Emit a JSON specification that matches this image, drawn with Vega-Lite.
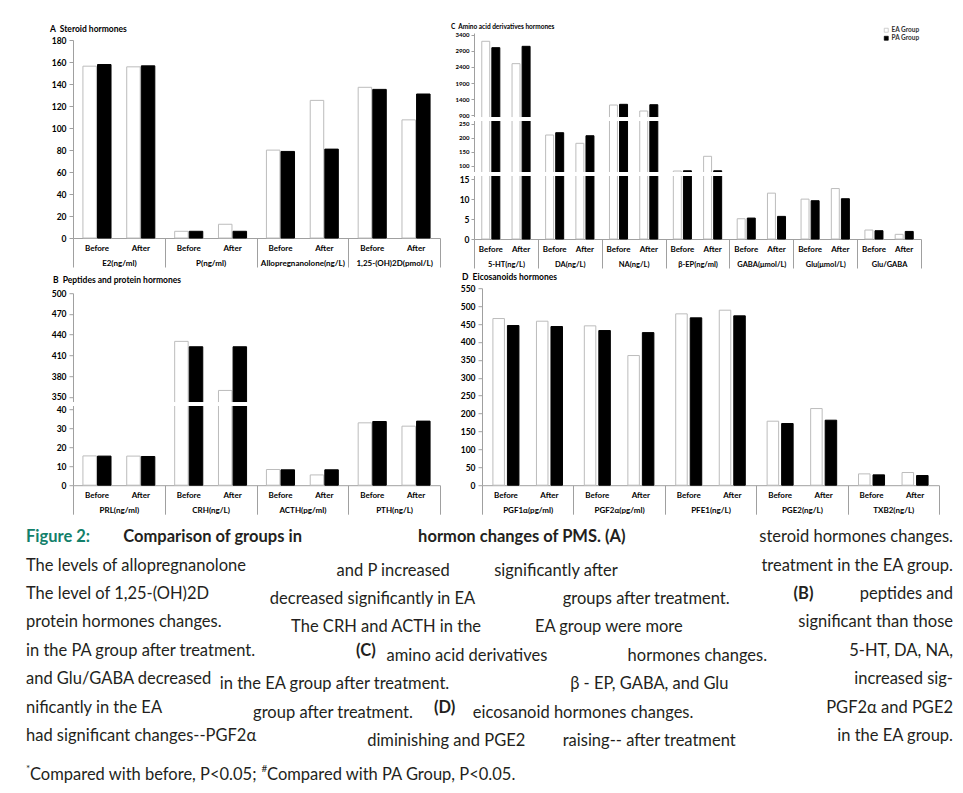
{
  "$schema": "https://vega.github.io/schema/vega-lite/v6.json",
  "background": "white",
  "padding": {"left": 26, "top": 23, "right": 0, "bottom": 0},
  "config": {"view": {"stroke": null}, "font": "Lato"},
  "spacing": 3.2,
  "resolve": {"scale": {"color": "independent", "stroke": "independent"}, "legend": {"color": "independent", "stroke": "independent"}},
  "datasets": {
    "bars": [
      {"panel": "A", "group": "E2(ng/ml)", "phase": "Before", "series": "EA Group", "slot": "Before EA", "value": 156.2},
      {"panel": "A", "group": "E2(ng/ml)", "phase": "Before", "series": "PA Group", "slot": "Before PA", "value": 157.7},
      {"panel": "A", "group": "E2(ng/ml)", "phase": "After", "series": "EA Group", "slot": "After EA", "value": 155.6},
      {"panel": "A", "group": "E2(ng/ml)", "phase": "After", "series": "PA Group", "slot": "After PA", "value": 156.5},
      {"panel": "A", "group": "P(ng/ml)", "phase": "Before", "series": "EA Group", "slot": "Before EA", "value": 6.1},
      {"panel": "A", "group": "P(ng/ml)", "phase": "Before", "series": "PA Group", "slot": "Before PA", "value": 6.1},
      {"panel": "A", "group": "P(ng/ml)", "phase": "After", "series": "EA Group", "slot": "After EA", "value": 12.5},
      {"panel": "A", "group": "P(ng/ml)", "phase": "After", "series": "PA Group", "slot": "After PA", "value": 6.1},
      {"panel": "A", "group": "Allopregnanolone(ng/L)", "phase": "Before", "series": "EA Group", "slot": "Before EA", "value": 79.9},
      {"panel": "A", "group": "Allopregnanolone(ng/L)", "phase": "Before", "series": "PA Group", "slot": "Before PA", "value": 78.7},
      {"panel": "A", "group": "Allopregnanolone(ng/L)", "phase": "After", "series": "EA Group", "slot": "After EA", "value": 125.1},
      {"panel": "A", "group": "Allopregnanolone(ng/L)", "phase": "After", "series": "PA Group", "slot": "After PA", "value": 80.8},
      {"panel": "A", "group": "1,25-(OH)2D(pmol/L)", "phase": "Before", "series": "EA Group", "slot": "Before EA", "value": 137.0},
      {"panel": "A", "group": "1,25-(OH)2D(pmol/L)", "phase": "Before", "series": "PA Group", "slot": "Before PA", "value": 135.1},
      {"panel": "A", "group": "1,25-(OH)2D(pmol/L)", "phase": "After", "series": "EA Group", "slot": "After EA", "value": 107.4},
      {"panel": "A", "group": "1,25-(OH)2D(pmol/L)", "phase": "After", "series": "PA Group", "slot": "After PA", "value": 130.9},

      {"panel": "B", "group": "PRL(ng/ml)", "phase": "Before", "series": "EA Group", "slot": "Before EA", "value": 15.4},
      {"panel": "B", "group": "PRL(ng/ml)", "phase": "Before", "series": "PA Group", "slot": "Before PA", "value": 15.3},
      {"panel": "B", "group": "PRL(ng/ml)", "phase": "After", "series": "EA Group", "slot": "After EA", "value": 15.3},
      {"panel": "B", "group": "PRL(ng/ml)", "phase": "After", "series": "PA Group", "slot": "After PA", "value": 15.1},
      {"panel": "B", "group": "CRH(ng/L)", "phase": "Before", "series": "EA Group", "slot": "Before EA", "value": 430.3},
      {"panel": "B", "group": "CRH(ng/L)", "phase": "Before", "series": "PA Group", "slot": "Before PA", "value": 422.5},
      {"panel": "B", "group": "CRH(ng/L)", "phase": "After", "series": "EA Group", "slot": "After EA", "value": 359.3},
      {"panel": "B", "group": "CRH(ng/L)", "phase": "After", "series": "PA Group", "slot": "After PA", "value": 422.5},
      {"panel": "B", "group": "ACTH(pg/ml)", "phase": "Before", "series": "EA Group", "slot": "Before EA", "value": 8.25},
      {"panel": "B", "group": "ACTH(pg/ml)", "phase": "Before", "series": "PA Group", "slot": "Before PA", "value": 8.1},
      {"panel": "B", "group": "ACTH(pg/ml)", "phase": "After", "series": "EA Group", "slot": "After EA", "value": 5.4},
      {"panel": "B", "group": "ACTH(pg/ml)", "phase": "After", "series": "PA Group", "slot": "After PA", "value": 8.1},
      {"panel": "B", "group": "PTH(ng/L)", "phase": "Before", "series": "EA Group", "slot": "Before EA", "value": 32.8},
      {"panel": "B", "group": "PTH(ng/L)", "phase": "Before", "series": "PA Group", "slot": "Before PA", "value": 33.5},
      {"panel": "B", "group": "PTH(ng/L)", "phase": "After", "series": "EA Group", "slot": "After EA", "value": 31.05},
      {"panel": "B", "group": "PTH(ng/L)", "phase": "After", "series": "PA Group", "slot": "After PA", "value": 33.7},

      {"panel": "C", "group": "5-HT(ng/L)", "phase": "Before", "series": "EA Group", "slot": "Before EA", "value": 3203},
      {"panel": "C", "group": "5-HT(ng/L)", "phase": "Before", "series": "PA Group", "slot": "Before PA", "value": 3004},
      {"panel": "C", "group": "5-HT(ng/L)", "phase": "After", "series": "EA Group", "slot": "After EA", "value": 2504},
      {"panel": "C", "group": "5-HT(ng/L)", "phase": "After", "series": "PA Group", "slot": "After PA", "value": 3046},
      {"panel": "C", "group": "DA(ng/L)", "phase": "Before", "series": "EA Group", "slot": "Before EA", "value": 209.6},
      {"panel": "C", "group": "DA(ng/L)", "phase": "Before", "series": "PA Group", "slot": "Before PA", "value": 217.9},
      {"panel": "C", "group": "DA(ng/L)", "phase": "After", "series": "EA Group", "slot": "After EA", "value": 180},
      {"panel": "C", "group": "DA(ng/L)", "phase": "After", "series": "PA Group", "slot": "After PA", "value": 207},
      {"panel": "C", "group": "NA(ng/L)", "phase": "Before", "series": "EA Group", "slot": "Before EA", "value": 1212},
      {"panel": "C", "group": "NA(ng/L)", "phase": "Before", "series": "PA Group", "slot": "Before PA", "value": 1234},
      {"panel": "C", "group": "NA(ng/L)", "phase": "After", "series": "EA Group", "slot": "After EA", "value": 1025},
      {"panel": "C", "group": "NA(ng/L)", "phase": "After", "series": "PA Group", "slot": "After PA", "value": 1222},
      {"panel": "C", "group": "β-EP(ng/ml)", "phase": "Before", "series": "EA Group", "slot": "Before EA", "value": 81},
      {"panel": "C", "group": "β-EP(ng/ml)", "phase": "Before", "series": "PA Group", "slot": "Before PA", "value": 82},
      {"panel": "C", "group": "β-EP(ng/ml)", "phase": "After", "series": "EA Group", "slot": "After EA", "value": 133.6},
      {"panel": "C", "group": "β-EP(ng/ml)", "phase": "After", "series": "PA Group", "slot": "After PA", "value": 82},
      {"panel": "C", "group": "GABA(μmol/L)", "phase": "Before", "series": "EA Group", "slot": "Before EA", "value": 5.08},
      {"panel": "C", "group": "GABA(μmol/L)", "phase": "Before", "series": "PA Group", "slot": "Before PA", "value": 5.25},
      {"panel": "C", "group": "GABA(μmol/L)", "phase": "After", "series": "EA Group", "slot": "After EA", "value": 11.5},
      {"panel": "C", "group": "GABA(μmol/L)", "phase": "After", "series": "PA Group", "slot": "After PA", "value": 5.67},
      {"panel": "C", "group": "Glu(μmol/L)", "phase": "Before", "series": "EA Group", "slot": "Before EA", "value": 10.0},
      {"panel": "C", "group": "Glu(μmol/L)", "phase": "Before", "series": "PA Group", "slot": "Before PA", "value": 9.6},
      {"panel": "C", "group": "Glu(μmol/L)", "phase": "After", "series": "EA Group", "slot": "After EA", "value": 12.65},
      {"panel": "C", "group": "Glu(μmol/L)", "phase": "After", "series": "PA Group", "slot": "After PA", "value": 10.1},
      {"panel": "C", "group": "Glu/GABA", "phase": "Before", "series": "EA Group", "slot": "Before EA", "value": 2.25},
      {"panel": "C", "group": "Glu/GABA", "phase": "Before", "series": "PA Group", "slot": "Before PA", "value": 2.08},
      {"panel": "C", "group": "Glu/GABA", "phase": "After", "series": "EA Group", "slot": "After EA", "value": 1.17},
      {"panel": "C", "group": "Glu/GABA", "phase": "After", "series": "PA Group", "slot": "After PA", "value": 1.9},

      {"panel": "D", "group": "PGF1α(pg/ml)", "phase": "Before", "series": "EA Group", "slot": "Before EA", "value": 465.3},
      {"panel": "D", "group": "PGF1α(pg/ml)", "phase": "Before", "series": "PA Group", "slot": "Before PA", "value": 445.8},
      {"panel": "D", "group": "PGF1α(pg/ml)", "phase": "After", "series": "EA Group", "slot": "After EA", "value": 457.9},
      {"panel": "D", "group": "PGF1α(pg/ml)", "phase": "After", "series": "PA Group", "slot": "After PA", "value": 443},
      {"panel": "D", "group": "PGF2α(pg/ml)", "phase": "Before", "series": "EA Group", "slot": "Before EA", "value": 444.9},
      {"panel": "D", "group": "PGF2α(pg/ml)", "phase": "Before", "series": "PA Group", "slot": "Before PA", "value": 431.8},
      {"panel": "D", "group": "PGF2α(pg/ml)", "phase": "After", "series": "EA Group", "slot": "After EA", "value": 362},
      {"panel": "D", "group": "PGF2α(pg/ml)", "phase": "After", "series": "PA Group", "slot": "After PA", "value": 426},
      {"panel": "D", "group": "PFE1(ng/L)", "phase": "Before", "series": "EA Group", "slot": "Before EA", "value": 478.4},
      {"panel": "D", "group": "PFE1(ng/L)", "phase": "Before", "series": "PA Group", "slot": "Before PA", "value": 467.2},
      {"panel": "D", "group": "PFE1(ng/L)", "phase": "After", "series": "EA Group", "slot": "After EA", "value": 488.6},
      {"panel": "D", "group": "PFE1(ng/L)", "phase": "After", "series": "PA Group", "slot": "After PA", "value": 472.8},
      {"panel": "D", "group": "PGE2(ng/L)", "phase": "Before", "series": "EA Group", "slot": "Before EA", "value": 178.7},
      {"panel": "D", "group": "PGE2(ng/L)", "phase": "Before", "series": "PA Group", "slot": "Before PA", "value": 172.2},
      {"panel": "D", "group": "PGE2(ng/L)", "phase": "After", "series": "EA Group", "slot": "After EA", "value": 214},
      {"panel": "D", "group": "PGE2(ng/L)", "phase": "After", "series": "PA Group", "slot": "After PA", "value": 181.5},
      {"panel": "D", "group": "TXB2(ng/L)", "phase": "Before", "series": "EA Group", "slot": "Before EA", "value": 31.6},
      {"panel": "D", "group": "TXB2(ng/L)", "phase": "Before", "series": "PA Group", "slot": "Before PA", "value": 28.9},
      {"panel": "D", "group": "TXB2(ng/L)", "phase": "After", "series": "EA Group", "slot": "After EA", "value": 35.4},
      {"panel": "D", "group": "TXB2(ng/L)", "phase": "After", "series": "PA Group", "slot": "After PA", "value": 27}
    ],
    "caption": [
      {"line": 1, "seg": "1a", "text": "Figure 2:"},
      {"line": 1, "seg": "1b", "text": "Comparison of groups in"},
      {"line": 1, "seg": "1c", "text": "hormon changes of PMS. (A)"},
      {"line": 1, "seg": "1d", "text": "steroid hormones changes."},
      {"line": 2, "seg": "2a", "text": "The levels of allopregnanolone"},
      {"line": 2, "seg": "2b", "text": "and P increased"},
      {"line": 2, "seg": "2c", "text": "significantly after"},
      {"line": 2, "seg": "2d", "text": "treatment in the EA group."},
      {"line": 3, "seg": "3a", "text": "The level of 1,25-(OH)2D"},
      {"line": 3, "seg": "3b", "text": "decreased significantly in EA"},
      {"line": 3, "seg": "3c", "text": "groups after treatment."},
      {"line": 3, "seg": "3d", "text": "(B)"},
      {"line": 3, "seg": "3e", "text": "peptides and"},
      {"line": 4, "seg": "4a", "text": "protein hormones changes."},
      {"line": 4, "seg": "4b", "text": "The CRH and ACTH in the"},
      {"line": 4, "seg": "4c", "text": "EA group were more"},
      {"line": 4, "seg": "4d", "text": "significant than those"},
      {"line": 5, "seg": "5a", "text": "in the PA group after treatment."},
      {"line": 5, "seg": "5b", "text": "(C)"},
      {"line": 5, "seg": "5c", "text": "amino acid derivatives"},
      {"line": 5, "seg": "5d", "text": "hormones changes."},
      {"line": 5, "seg": "5e", "text": "5-HT, DA, NA,"},
      {"line": 6, "seg": "6a", "text": "and Glu/GABA decreased"},
      {"line": 6, "seg": "6b", "text": "in the EA group after treatment."},
      {"line": 6, "seg": "6c", "text": "β - EP, GABA, and Glu"},
      {"line": 6, "seg": "6d", "text": "increased sig-"},
      {"line": 7, "seg": "7a", "text": "nificantly in the EA"},
      {"line": 7, "seg": "7b", "text": "group after treatment."},
      {"line": 7, "seg": "7c", "text": "(D)"},
      {"line": 7, "seg": "7d", "text": "eicosanoid hormones changes."},
      {"line": 7, "seg": "7e", "text": "PGF2α and PGE2"},
      {"line": 8, "seg": "8a", "text": "had significant changes--PGF2α"},
      {"line": 8, "seg": "8b", "text": "diminishing and PGE2"},
      {"line": 8, "seg": "8c", "text": "raising-- after treatment"},
      {"line": 8, "seg": "8d", "text": "in the EA group."},
      {"line": 9, "seg": "9a", "text": "*"},
      {"line": 9, "seg": "9b", "text": "Compared with before, P<0.05;"},
      {"line": 9, "seg": "9c", "text": "#"},
      {"line": 9, "seg": "9d", "text": "Compared with PA Group, P<0.05."}
    ]
  },
  "vconcat": [
    {
      "spacing": 10,
      "resolve": {"scale": {"color": "independent", "stroke": "independent", "xOffset": "independent"}, "legend": {"color": "independent", "stroke": "independent"}},
      "hconcat": [
        {
          "width": 367, "height": 205,
          "title": {"text": "A\u00a0\u00a0Steroid hormones", "anchor": "start", "frame": "group", "dx": -23, "offset": 0, "font": "Lato", "fontSize": 8.5, "fontWeight": "bold", "color": "#000"},
          "data": {"name": "bars"},
          "transform": [{"filter": "datum.panel === 'A'"}],
          "layer": [
            {
              "mark": {"type": "bar", "strokeWidth": 1},
              "encoding": {
                "x": {"field": "group", "type": "nominal", "sort": null, "scale": {"paddingInner": 0, "paddingOuter": 0},
                  "axis": {"title": null, "labelAngle": 0, "labelPadding": -8, "labelFont": "Lato", "labelFontWeight": "bold", "labelFontSize": 8, "labelColor": "#000", "tickBand": "extent", "tickSize": 29, "tickColor": "#a0a0a0", "domainColor": "#a0a0a0", "labelOverlap": false, "labelBound": false, "labelLimit": 0}},
                "xOffset": {"field": "slot", "type": "nominal", "scale": {"domain": ["Before EA", "Before PA", "gap", "After EA", "After PA"], "paddingInner": 0.075, "paddingOuter": 0.68}},
                "y": {"field": "value", "type": "quantitative", "scale": {"domain": [0, 180], "range": [205, 7], "nice": false},
                  "axis": {"title": null, "values": [0, 20, 40, 60, 80, 100, 120, 140, 160, 180], "tickCount": 100, "format": "d", "labelOverlap": false, "labelFont": "Lato", "labelFontWeight": "bold", "labelFontSize": 8.5, "labelColor": "#000", "labelPadding": 3, "tickSize": 4, "tickColor": "#a0a0a0", "domainColor": "#a0a0a0", "grid": false}},
                "color": {"field": "series", "type": "nominal", "scale": {"domain": ["EA Group", "PA Group"], "range": ["#ffffff", "#000000"]}, "legend": null},
                "stroke": {"field": "series", "type": "nominal", "scale": {"domain": ["EA Group", "PA Group"], "range": ["#bcbcbc", "#000000"]}, "legend": null}
              }
            },
            {
              "transform": [{"filter": "datum.series === 'EA Group'"}],
              "mark": {"type": "text", "baseline": "top", "dy": 7, "dx": 7.3, "font": "Lato", "fontSize": 8, "fontWeight": "bold", "color": "#000"},
              "encoding": {
                "x": {"field": "group", "type": "nominal", "sort": null},
                "xOffset": {"field": "slot", "type": "nominal"},
                "y": {"datum": 0},
                "text": {"field": "phase"}
              }
            }
          ]
        },
        {
          "width": 447, "height": 206,
          "title": {"text": "C\u00a0\u00a0Amino acid derivatives hormones", "anchor": "start", "frame": "group", "dx": -23, "dy": 4.7, "offset": 1.3, "font": "Lato", "fontSize": 6.5, "fontWeight": "bold", "color": "#000"},
          "data": {"name": "bars"},
          "transform": [{"filter": "datum.panel === 'C'"}],
          "layer": [
            {
              "mark": {"type": "bar", "strokeWidth": 1},
              "encoding": {
                "x": {"field": "group", "type": "nominal", "sort": null, "scale": {"paddingInner": 0, "paddingOuter": 0},
                  "axis": {"title": null, "labelAngle": 0, "labelPadding": -8, "labelFont": "Lato", "labelFontWeight": "bold", "labelFontSize": 7.5, "labelColor": "#000", "tickBand": "extent", "tickSize": 29, "tickColor": "#a0a0a0", "domainColor": "#a0a0a0", "labelOverlap": false, "labelBound": false, "labelLimit": 0}},
                "xOffset": {"field": "slot", "type": "nominal", "scale": {"domain": ["Before EA", "Before PA", "gap", "After EA", "After PA"], "paddingInner": 0.21, "paddingOuter": 0.77}},
                "y": {"field": "value", "type": "quantitative", "scale": {"domain": [0, 16.3, 70.4, 265.7, 766, 3462], "range": [206, 141, 141, 86.3, 86.3, 0], "nice": false},
                  "axis": {"title": null, "values": [0, 5, 10, 15, 100, 150, 200, 250, 900, 1400, 1900, 2400, 2900, 3400], "tickCount": 100, "format": "d", "labelOverlap": false, "labelFont": "Lato", "labelFontWeight": "bold", "labelFontSize": {"condition": {"test": "datum.value <= 15", "value": 8.5}, "value": 6}, "labelColor": "#000", "labelPadding": 2, "tickSize": 3, "tickColor": "#a0a0a0", "domainColor": "#a0a0a0", "grid": false}},
                "color": {"field": "series", "type": "nominal", "scale": {"domain": ["EA Group", "PA Group"], "range": ["#ffffff", "#000000"]},
                  "legend": {"orient": "none", "legendX": 409, "legendY": -6, "title": null, "symbolType": "square", "symbolSize": 16, "symbolStrokeColor": "#9a9a9a", "symbolStrokeWidth": 0.7, "labelFont": "Lato", "labelFontWeight": "bold", "labelFontSize": 6.5, "labelColor": "#333", "rowPadding": 0, "labelOffset": 2, "padding": 0}},
                "stroke": {"field": "series", "type": "nominal", "scale": {"domain": ["EA Group", "PA Group"], "range": ["#bcbcbc", "#000000"]}, "legend": null}
              }
            },
            {
              "transform": [{"filter": "datum.series === 'EA Group'"}],
              "mark": {"type": "text", "baseline": "top", "dy": 7, "dx": 5.05, "font": "Lato", "fontSize": 8, "fontWeight": "bold", "color": "#000"},
              "encoding": {
                "x": {"field": "group", "type": "nominal", "sort": null},
                "xOffset": {"field": "slot", "type": "nominal"},
                "y": {"datum": 0},
                "text": {"field": "phase"}
              }
            },
            {"mark": {"type": "rule", "color": "white", "strokeWidth": 3}, "encoding": {"y": {"datum": 40}}},
            {"mark": {"type": "rule", "color": "white", "strokeWidth": 3}, "encoding": {"y": {"datum": 500}}}
          ]
        }
      ]
    },
    {
      "spacing": 18,
      "resolve": {"scale": {"color": "independent", "stroke": "independent", "xOffset": "independent"}, "legend": {"color": "independent", "stroke": "independent"}},
      "hconcat": [
        {
          "width": 367, "height": 197,
          "title": {"text": "B\u00a0\u00a0Peptides and protein hormones", "anchor": "start", "frame": "group", "dx": -20, "offset": 4, "font": "Lato", "fontSize": 8.5, "fontWeight": "bold", "color": "#000"},
          "data": {"name": "bars"},
          "transform": [{"filter": "datum.panel === 'B'"}],
          "layer": [
            {
              "mark": {"type": "bar", "strokeWidth": 1},
              "encoding": {
                "x": {"field": "group", "type": "nominal", "sort": null, "scale": {"paddingInner": 0, "paddingOuter": 0},
                  "axis": {"title": null, "labelAngle": 0, "labelPadding": -8, "labelFont": "Lato", "labelFontWeight": "bold", "labelFontSize": 8, "labelColor": "#000", "tickBand": "extent", "tickSize": 29, "tickColor": "#a0a0a0", "domainColor": "#a0a0a0", "labelOverlap": false, "labelBound": false, "labelLimit": 0}},
                "xOffset": {"field": "slot", "type": "nominal", "scale": {"domain": ["Before EA", "Before PA", "gap", "After EA", "After PA"], "paddingInner": 0.075, "paddingOuter": 0.68}},
                "y": {"field": "value", "type": "quantitative", "scale": {"domain": [0, 42.6, 339.4, 500], "range": [197, 116, 116, 5], "nice": false},
                  "axis": {"title": null, "values": [0, 10, 20, 30, 40, 350, 380, 410, 440, 470, 500], "tickCount": 100, "format": "d", "labelOverlap": false, "labelFont": "Lato", "labelFontWeight": "bold", "labelFontSize": 8.5, "labelColor": "#000", "labelPadding": 3, "tickSize": 4, "tickColor": "#a0a0a0", "domainColor": "#a0a0a0", "grid": false}},
                "color": {"field": "series", "type": "nominal", "scale": {"domain": ["EA Group", "PA Group"], "range": ["#ffffff", "#000000"]}, "legend": null},
                "stroke": {"field": "series", "type": "nominal", "scale": {"domain": ["EA Group", "PA Group"], "range": ["#bcbcbc", "#000000"]}, "legend": null}
              }
            },
            {
              "transform": [{"filter": "datum.series === 'EA Group'"}],
              "mark": {"type": "text", "baseline": "top", "dy": 7, "dx": 7.3, "font": "Lato", "fontSize": 8, "fontWeight": "bold", "color": "#000"},
              "encoding": {
                "x": {"field": "group", "type": "nominal", "sort": null},
                "xOffset": {"field": "slot", "type": "nominal"},
                "y": {"datum": 0},
                "text": {"field": "phase"}
              }
            },
            {"mark": {"type": "rule", "color": "white", "strokeWidth": 3}, "encoding": {"y": {"datum": 200}}}
          ]
        },
        {
          "width": 457, "height": 197,
          "title": {"text": "D\u00a0\u00a0Eicosanoids hormones", "anchor": "start", "frame": "group", "dx": -20, "offset": 3, "font": "Lato", "fontSize": 8.5, "fontWeight": "bold", "color": "#000"},
          "data": {"name": "bars"},
          "transform": [{"filter": "datum.panel === 'D'"}],
          "layer": [
            {
              "mark": {"type": "bar", "strokeWidth": 1},
              "encoding": {
                "x": {"field": "group", "type": "nominal", "sort": null, "scale": {"paddingInner": 0, "paddingOuter": 0},
                  "axis": {"title": null, "labelAngle": 0, "labelPadding": -8, "labelFont": "Lato", "labelFontWeight": "bold", "labelFontSize": 8, "labelColor": "#000", "tickBand": "extent", "tickSize": 29, "tickColor": "#a0a0a0", "domainColor": "#a0a0a0", "labelOverlap": false, "labelBound": false, "labelLimit": 0}},
                "xOffset": {"field": "slot", "type": "nominal", "scale": {"domain": ["Before EA", "Before PA", "gap", "After EA", "After PA"], "paddingInner": 0.207, "paddingOuter": 0.752}},
                "y": {"field": "value", "type": "quantitative", "scale": {"domain": [0, 550], "nice": false},
                  "axis": {"title": null, "values": [0, 50, 100, 150, 200, 250, 300, 350, 400, 450, 500, 550], "tickCount": 100, "format": "d", "labelOverlap": false, "labelFont": "Lato", "labelFontWeight": "bold", "labelFontSize": 8.5, "labelColor": "#000", "labelPadding": 3, "tickSize": 4, "tickColor": "#a0a0a0", "domainColor": "#a0a0a0", "grid": false}},
                "color": {"field": "series", "type": "nominal", "scale": {"domain": ["EA Group", "PA Group"], "range": ["#ffffff", "#000000"]}, "legend": null},
                "stroke": {"field": "series", "type": "nominal", "scale": {"domain": ["EA Group", "PA Group"], "range": ["#bcbcbc", "#000000"]}, "legend": null}
              }
            },
            {
              "transform": [{"filter": "datum.series === 'EA Group'"}],
              "mark": {"type": "text", "baseline": "top", "dy": 7, "dx": 7.25, "font": "Lato", "fontSize": 8, "fontWeight": "bold", "color": "#000"},
              "encoding": {
                "x": {"field": "group", "type": "nominal", "sort": null},
                "xOffset": {"field": "slot", "type": "nominal"},
                "y": {"datum": 0},
                "text": {"field": "phase"}
              }
            }
          ]
        }
      ]
    },
    {
      "width": 880, "height": 258,
      "data": {"name": "caption"},
      "encoding": {
        "y": {"field": "line", "type": "quantitative", "scale": {"domain": [1, 8, 9], "range": [23.7, 222.5, 256.5]}, "axis": null},
        "text": {"field": "text"}
      },
      "layer": [
        {"transform": [{"filter": {"field": "seg", "oneOf": ["2a", "3a", "4a", "5a", "6a", "7a", "8a"]}}],
         "mark": {"type": "text", "align": "left", "baseline": "alphabetic", "font": "Lato", "fontSize": 16.5, "color": "#231f20"},
         "encoding": {"x": {"datum": 0, "type": "quantitative", "scale": {"domain": [0, 1], "range": [-47, 880]}, "axis": null}}},
        {"transform": [{"filter": {"field": "seg", "oneOf": ["1d", "2d", "3e", "4d", "5e", "6d", "7e", "8d"]}}],
         "mark": {"type": "text", "align": "right", "baseline": "alphabetic", "font": "Lato", "fontSize": 16.5, "color": "#231f20"},
         "encoding": {"x": {"datum": 1, "type": "quantitative"}}},
        {"transform": [{"filter": "datum.seg === '1a'"}],
         "mark": {"type": "text", "align": "left", "baseline": "alphabetic", "font": "Lato", "fontSize": 16.5, "fontWeight": "bold", "color": "#12806a"},
         "encoding": {"x": {"datum": 0, "type": "quantitative"}}},
        {"transform": [{"filter": "datum.seg === '1b'"}],
         "mark": {"type": "text", "align": "left", "baseline": "alphabetic", "font": "Lato", "fontSize": 16.5, "fontWeight": "bold", "color": "#231f20"},
         "encoding": {"x": {"datum": 0.105, "type": "quantitative"}}},
        {"transform": [{"filter": "datum.seg === '1c'"}],
         "mark": {"type": "text", "align": "left", "baseline": "alphabetic", "font": "Lato", "fontSize": 16.5, "fontWeight": "bold", "color": "#231f20"},
         "encoding": {"x": {"datum": 0.423, "type": "quantitative"}}},
        {"transform": [{"filter": "datum.seg === '3d'"}],
         "mark": {"type": "text", "align": "left", "baseline": "alphabetic", "font": "Lato", "fontSize": 16.5, "fontWeight": "bold", "color": "#231f20"},
         "encoding": {"x": {"datum": 0.828, "type": "quantitative"}}},
        {"transform": [{"filter": "datum.seg === '5b'"}],
         "mark": {"type": "text", "align": "left", "baseline": "alphabetic", "font": "Lato", "fontSize": 16.5, "fontWeight": "bold", "color": "#231f20"},
         "encoding": {"x": {"datum": 0.356, "type": "quantitative"}}},
        {"transform": [{"filter": "datum.seg === '7c'"}],
         "mark": {"type": "text", "align": "left", "baseline": "alphabetic", "font": "Lato", "fontSize": 16.5, "fontWeight": "bold", "color": "#231f20"},
         "encoding": {"x": {"datum": 0.44, "type": "quantitative"}}},
        {"transform": [{"filter": "datum.seg === '2b'"}], "mark": {"type": "text", "align": "left", "font": "Lato", "fontSize": 16.5, "color": "#231f20"}, "encoding": {"x": {"datum": 0.335, "type": "quantitative"}}},
        {"transform": [{"filter": "datum.seg === '2c'"}], "mark": {"type": "text", "align": "left", "font": "Lato", "fontSize": 16.5, "color": "#231f20"}, "encoding": {"x": {"datum": 0.505, "type": "quantitative"}}},
        {"transform": [{"filter": "datum.seg === '3b'"}], "mark": {"type": "text", "align": "left", "font": "Lato", "fontSize": 16.5, "color": "#231f20"}, "encoding": {"x": {"datum": 0.263, "type": "quantitative"}}},
        {"transform": [{"filter": "datum.seg === '3c'"}], "mark": {"type": "text", "align": "left", "font": "Lato", "fontSize": 16.5, "color": "#231f20"}, "encoding": {"x": {"datum": 0.579, "type": "quantitative"}}},
        {"transform": [{"filter": "datum.seg === '4b'"}], "mark": {"type": "text", "align": "left", "font": "Lato", "fontSize": 16.5, "color": "#231f20"}, "encoding": {"x": {"datum": 0.286, "type": "quantitative"}}},
        {"transform": [{"filter": "datum.seg === '4c'"}], "mark": {"type": "text", "align": "left", "font": "Lato", "fontSize": 16.5, "color": "#231f20"}, "encoding": {"x": {"datum": 0.549, "type": "quantitative"}}},
        {"transform": [{"filter": "datum.seg === '5c'"}], "mark": {"type": "text", "align": "left", "font": "Lato", "fontSize": 16.5, "color": "#231f20"}, "encoding": {"x": {"datum": 0.389, "type": "quantitative"}}},
        {"transform": [{"filter": "datum.seg === '5d'"}], "mark": {"type": "text", "align": "left", "font": "Lato", "fontSize": 16.5, "color": "#231f20"}, "encoding": {"x": {"datum": 0.649, "type": "quantitative"}}},
        {"transform": [{"filter": "datum.seg === '6b'"}], "mark": {"type": "text", "align": "left", "font": "Lato", "fontSize": 16.5, "color": "#231f20"}, "encoding": {"x": {"datum": 0.209, "type": "quantitative"}}},
        {"transform": [{"filter": "datum.seg === '6c'"}], "mark": {"type": "text", "align": "left", "font": "Lato", "fontSize": 16.5, "color": "#231f20"}, "encoding": {"x": {"datum": 0.587, "type": "quantitative"}}},
        {"transform": [{"filter": "datum.seg === '7b'"}], "mark": {"type": "text", "align": "left", "font": "Lato", "fontSize": 16.5, "color": "#231f20"}, "encoding": {"x": {"datum": 0.245, "type": "quantitative"}}},
        {"transform": [{"filter": "datum.seg === '7d'"}], "mark": {"type": "text", "align": "left", "font": "Lato", "fontSize": 16.5, "color": "#231f20"}, "encoding": {"x": {"datum": 0.482, "type": "quantitative"}}},
        {"transform": [{"filter": "datum.seg === '8b'"}], "mark": {"type": "text", "align": "left", "font": "Lato", "fontSize": 16.5, "color": "#231f20"}, "encoding": {"x": {"datum": 0.368, "type": "quantitative"}}},
        {"transform": [{"filter": "datum.seg === '8c'"}], "mark": {"type": "text", "align": "left", "font": "Lato", "fontSize": 16.5, "color": "#231f20"}, "encoding": {"x": {"datum": 0.579, "type": "quantitative"}}},
        {"transform": [{"filter": "datum.seg === '9b'"}], "mark": {"type": "text", "align": "left", "font": "Lato", "fontSize": 16.5, "color": "#231f20"}, "encoding": {"x": {"datum": 0.0043, "type": "quantitative"}}},
        {"transform": [{"filter": "datum.seg === '9d'"}], "mark": {"type": "text", "align": "left", "font": "Lato", "fontSize": 16.5, "color": "#231f20"}, "encoding": {"x": {"datum": 0.26, "type": "quantitative"}}},
        {"transform": [{"filter": "datum.seg === '9a'"}], "mark": {"type": "text", "align": "left", "font": "Lato", "fontSize": 10, "dy": -6, "color": "#231f20"}, "encoding": {"x": {"datum": 0, "type": "quantitative"}}},
        {"transform": [{"filter": "datum.seg === '9c'"}], "mark": {"type": "text", "align": "left", "font": "Lato", "fontSize": 10, "dy": -6, "color": "#231f20"}, "encoding": {"x": {"datum": 0.254, "type": "quantitative"}}}
      ]
    }
  ]
}
